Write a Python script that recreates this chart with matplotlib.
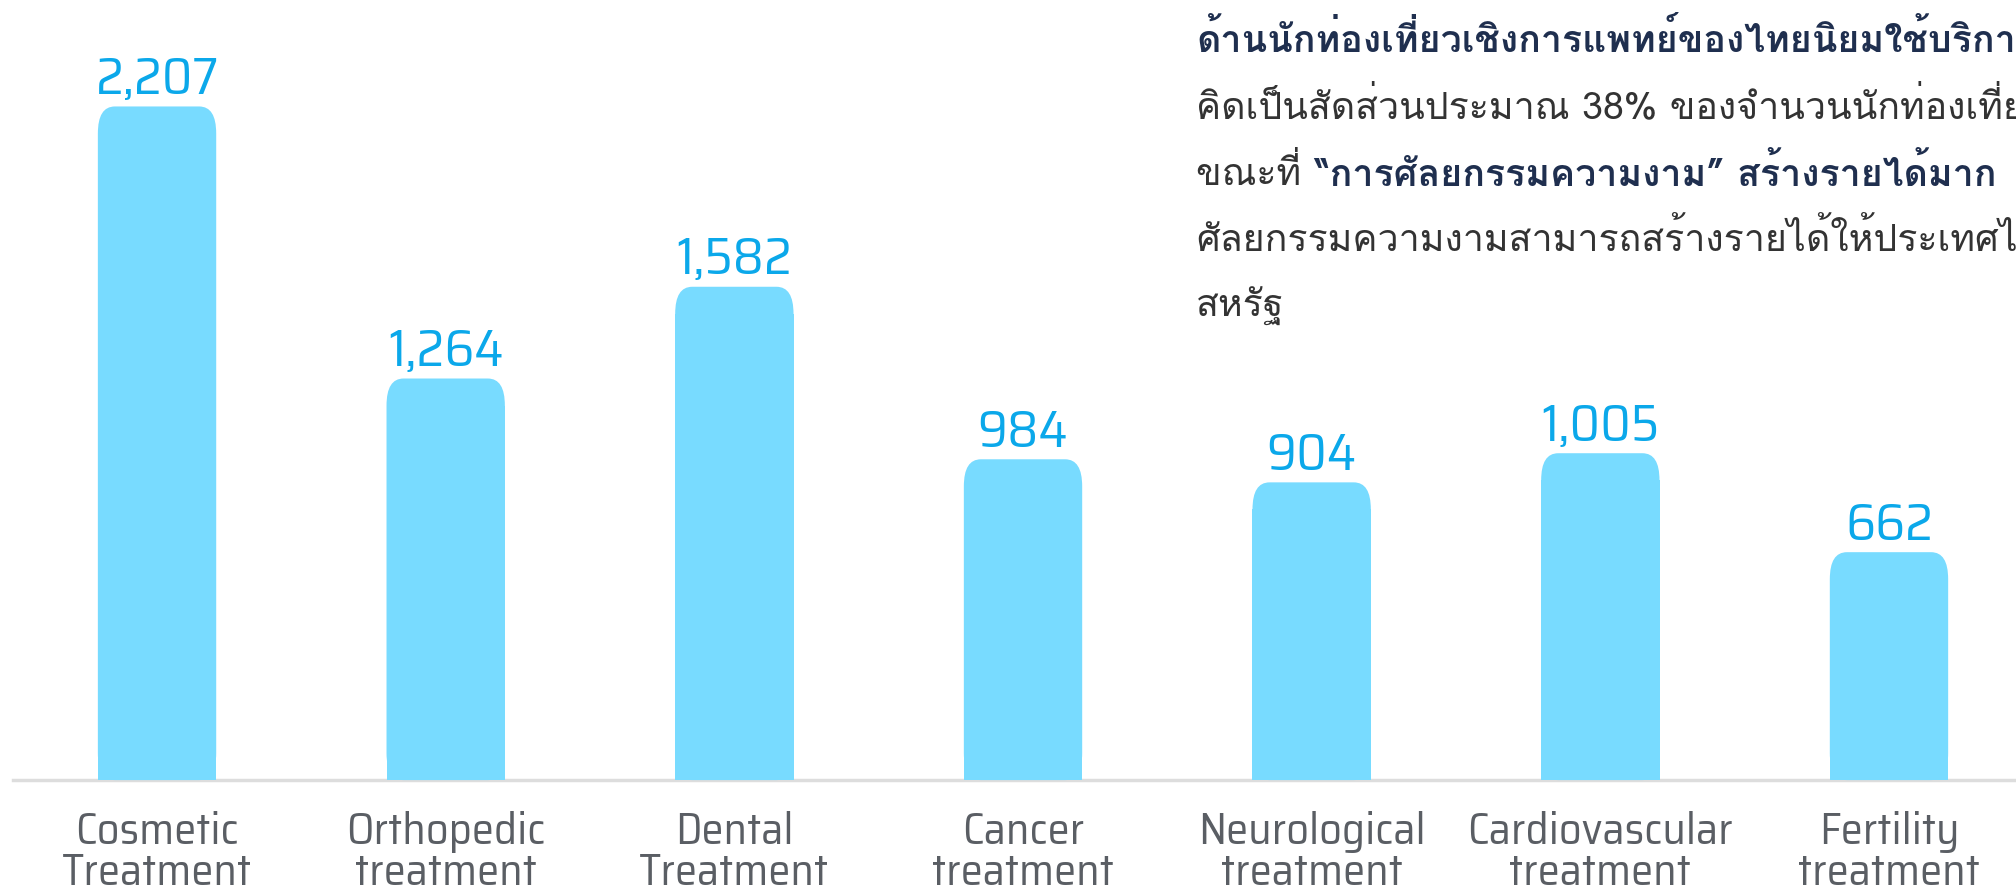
import matplotlib
matplotlib.use('Agg')
import matplotlib.pyplot as plt
from matplotlib.patches import FancyBboxPatch

# data
categories = ['Cosmetic\nTreatment', 'Orthopedic\ntreatment', 'Dental\nTreatment', 'Cancer\ntreatment',
              'Neurological\ntreatment', 'Cardiovascular\ntreatment', 'Fertility\ntreatment']
values = [2207, 1264, 1582, 984, 904, 1005, 662]

thai_lines = [
    [('ด้านนักท่องเที่ยวเชิงการแพทย์ของไทยนิยมใช้บริการ', 'bold')],
    [('คิดเป็นสัดส่วนประมาณ 38% ของจำนวนนักท่องเที่ยว', 'normal')],
    [('ขณะที่ ', 'normal'), ('“การศัลยกรรมความงาม” สร้างรายได้มาก', 'bold')],
    [('ศัลยกรรมความงามสามารถสร้างรายได้ให้ประเทศไทย', 'normal')],
    [('สหรัฐ', 'normal')],
]

bar_color = '#78DBFF'
num_color = '#0BA8EA'
lab_color = '#5a5e64'
latin_font = ['Saira SemiCondensed', 'DejaVu Sans']
thai_font = ['Loma', 'DejaVu Sans']

base = -128  # bars start a bit below zero like the original
x = list(range(len(values)))

fig = plt.figure(figsize=(20.16, 8.9), dpi=100)
ax = fig.add_axes([0, 0, 1, 1])
ax.set_xlim(-0.544, 6.44)
ax.set_ylim(-509, 2576)
ax.axis('off')

# baseline
ax.axhline(base, xmin=0.0065, xmax=1, color='#dddddd', lw=2.5, zorder=1)

bars = ax.bar(x, [v - base for v in values], bottom=base, width=0.41, color=bar_color, zorder=2)

# rounded tops (elliptic corners), sizes in pixels -> data units
rx_px, ry_px = 17, 27
inv = ax.transData.inverted()
p0 = inv.transform((0, 0))
p1 = inv.transform((1, 1))
dx, dy = p1[0] - p0[0], p1[1] - p0[1]
for b in bars:
    bx, by = b.get_x(), b.get_y()
    w, h = b.get_width(), b.get_height()
    ax.add_patch(FancyBboxPatch((bx, by), w, h,
                                boxstyle='round,pad=0,rounding_size=%f' % (rx_px * dx),
                                mutation_aspect=(ry_px * dy) / (rx_px * dx),
                                color=bar_color, lw=0, zorder=2))
    b.set_height(h - ry_px * dy)

for xi, v in zip(x, values):
    ax.annotate(f'{v:,}', (xi, v), xytext=(0, 9), textcoords='offset points',
                ha='center', va='baseline', fontsize=38, color=num_color, family=latin_font)

for xi, c in zip(x, categories):
    ax.annotate(c, (xi, base), xytext=(0, -75.5), textcoords='offset points',
                ha='center', va='baseline', fontsize=32, color=lab_color,
                family=latin_font, linespacing=0.98)

# thai paragraph (runs off the right edge like the source)
y0 = 1 - 52 / 890
step = 66.3 / 890
for i, parts in enumerate(thai_lines):
    t = fig.text(1196 / 2016, y0 - i * step, parts[0][0], fontsize=27, family=thai_font,
                 fontweight=parts[0][1], va='baseline', ha='left',
                 color='#1f2f4f' if parts[0][1] == 'bold' else '#333333')
    for s, wgt in parts[1:]:
        t = ax.annotate(s, xy=(1, 0), xycoords=t, va='bottom', ha='left', fontsize=27,
                        family=thai_font, fontweight=wgt,
                        color='#1f2f4f' if wgt == 'bold' else '#333333')

fig.savefig('out.png', dpi=100)
